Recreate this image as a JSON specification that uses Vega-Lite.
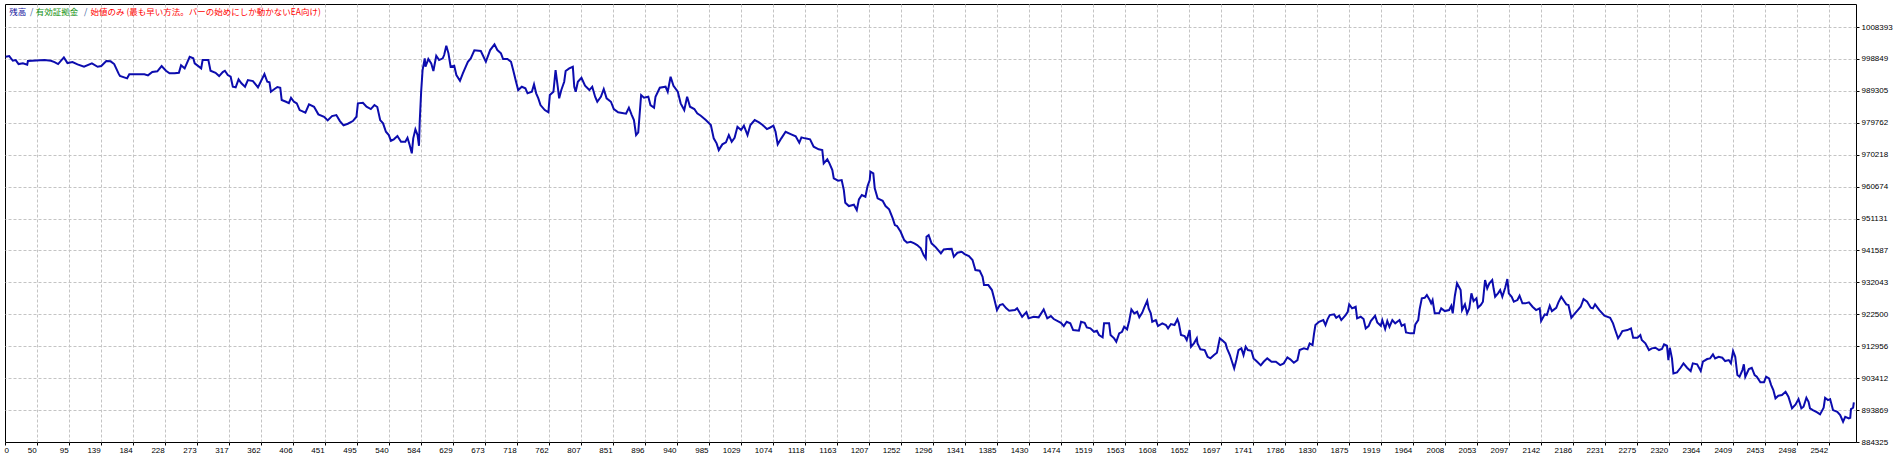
{
  "$schema": "https://vega.github.io/schema/vega-lite/v6.json",
  "width": 1851,
  "height": 438,
  "padding": {"left": 4, "top": 4, "right": 0, "bottom": 0},
  "autosize": {"type": "pad"},
  "background": "#ffffff",
  "config": {
    "font": "Liberation Sans",
    "view": {"stroke": "#000000", "strokeWidth": 1},
    "axis": {
      "domain": false,
      "grid": true,
      "gridColor": "#c4c4c4",
      "gridDash": [3, 2],
      "gridWidth": 1,
      "tickColor": "#000000",
      "tickSize": 3,
      "labelFont": "Liberation Sans",
      "labelFontSize": 8,
      "labelColor": "#000000",
      "labelOverlap": false,
      "title": null
    }
  },
  "data": {"values": [
    {"bar":6,"balance":999513},{"bar":11,"balance":999722},{"bar":16,"balance":998317},{"bar":20,"balance":998526},{"bar":24,"balance":997330},{"bar":30,"balance":997539},{"bar":36,"balance":997121},{"bar":37,"balance":998227},{"bar":60,"balance":998526},{"bar":69,"balance":998317},{"bar":74,"balance":997928},{"bar":79,"balance":997330},{"bar":87,"balance":999333},{"bar":92,"balance":997629},{"bar":99,"balance":997928},{"bar":106,"balance":997240},{"bar":115,"balance":996523},{"bar":126,"balance":997539},{"bar":134,"balance":996523},{"bar":139,"balance":996732},{"bar":146,"balance":998227},{"bar":152,"balance":998137},{"bar":157,"balance":997330},{"bar":163,"balance":994549},{"bar":165,"balance":993742},{"bar":175,"balance":993054},{"bar":178,"balance":994250},{"bar":199,"balance":994250},{"bar":204,"balance":993951},{"bar":210,"balance":994938},{"bar":217,"balance":995147},{"bar":223,"balance":996732},{"bar":229,"balance":995327},{"bar":234,"balance":994549},{"bar":241,"balance":994549},{"bar":247,"balance":994729},{"bar":250,"balance":996941},{"bar":255,"balance":996044},{"bar":262,"balance":999513},{"bar":267,"balance":999034},{"bar":269,"balance":997539},{"bar":278,"balance":996044},{"bar":280,"balance":998526},{"bar":288,"balance":998526},{"bar":291,"balance":995327},{"bar":298,"balance":994729},{"bar":303,"balance":993742},{"bar":308,"balance":994938},{"bar":311,"balance":995327},{"bar":315,"balance":994041},{"bar":319,"balance":993533},{"bar":322,"balance":990543},{"bar":326,"balance":990363},{"bar":330,"balance":992755},{"bar":334,"balance":991559},{"bar":339,"balance":990543},{"bar":343,"balance":992546},{"bar":350,"balance":992247},{"bar":357,"balance":990363},{"bar":366,"balance":994340},{"bar":370,"balance":992038},
    {"bar":373,"balance":991858},{"bar":375,"balance":989048},{"bar":380,"balance":989855},{"bar":384,"balance":990453},{"bar":388,"balance":990244},{"bar":390,"balance":986566},{"bar":396,"balance":986058},{"bar":400,"balance":985669},{"bar":403,"balance":987254},{"bar":407,"balance":986058},{"bar":411,"balance":985579},{"bar":415,"balance":983576},{"bar":423,"balance":982769},{"bar":428,"balance":985280},{"bar":435,"balance":984563},{"bar":441,"balance":982290},{"bar":449,"balance":981573},{"bar":454,"balance":980496},{"bar":460,"balance":981782},{"bar":466,"balance":982081},{"bar":471,"balance":980287},{"bar":476,"balance":979001},{"bar":482,"balance":979480},{"bar":489,"balance":980287},{"bar":494,"balance":981573},{"bar":496,"balance":985579},{"bar":503,"balance":985759},{"bar":508,"balance":984563},{"bar":514,"balance":983875},{"bar":519,"balance":985071},{"bar":523,"balance":984473},{"bar":527,"balance":980586},{"bar":531,"balance":979599},{"bar":535,"balance":977088},{"bar":539,"balance":976101},{"bar":542,"balance":974397},{"bar":546,"balance":974815},{"bar":551,"balance":975802},{"bar":556,"balance":974098},{"bar":562,"balance":974098},{"bar":565,"balance":975294},{"bar":568,"balance":973111},{"bar":571,"balance":970629},{"bar":573,"balance":975114},{"bar":576,"balance":977805},{"bar":579,"balance":976101},{"bar":581,"balance":972902},{"bar":582,"balance":980078},{"bar":584,"balance":989048},{"bar":586,"balance":995536},{"bar":589,"balance":999034},{"bar":590,"balance":996523},{"bar":594,"balance":998825},{"bar":598,"balance":997539},{"bar":601,"balance":995237},{"bar":605,"balance":999812},{"bar":609,"balance":998526},{"bar":614,"balance":999034},{"bar":616,"balance":1000021},{"bar":619,"balance":1002802},{"bar":622,"balance":1000529},{"bar":625,"balance":996523},{"bar":630,"balance":996822},{"bar":633,"balance":994041},{"bar":638,"balance":992337},{"bar":642,"balance":994549},{"bar":645,"balance":996044},{"bar":649,"balance":998018},{"bar":653,"balance":999034},{"bar":658,"balance":1001426},{"bar":667,"balance":1001217},{"bar":674,"balance":998018},{"bar":680,"balance":1001516},{"bar":686,"balance":1003220},{"bar":690,"balance":1001516},{"bar":695,"balance":1000529},{"bar":698,"balance":998825},{"bar":704,"balance":998825},{"bar":709,"balance":998018},{"bar":712,"balance":995536},{"bar":716,"balance":992038},{"bar":719,"balance":989556},{"bar":724,"balance":990543},{"bar":729,"balance":990064},{"bar":732,"balance":988569},{"bar":738,"balance":989048},{"bar":741,"balance":991260},{"bar":744,"balance":988569},
    {"bar":747,"balance":987074},{"bar":750,"balance":985071},{"bar":756,"balance":983576},{"bar":761,"balance":982888},{"bar":763,"balance":988061},{"bar":768,"balance":989048},{"bar":771,"balance":995536},{"bar":774,"balance":990543},{"bar":776,"balance":987074},{"bar":779,"balance":989556},{"bar":783,"balance":992038},{"bar":785,"balance":995237},{"bar":790,"balance":996044},{"bar":795,"balance":996523},{"bar":797,"balance":990543},{"bar":799,"balance":989048},{"bar":802,"balance":992038},{"bar":807,"balance":993234},{"bar":812,"balance":990842},{"bar":818,"balance":989556},{"bar":822,"balance":990543},{"bar":826,"balance":987553},{"bar":829,"balance":986058},{"bar":834,"balance":987553},{"bar":838,"balance":989855},{"bar":842,"balance":987074},{"bar":848,"balance":986058},{"bar":852,"balance":983875},{"bar":858,"balance":982888},{"bar":869,"balance":982470},{"bar":873,"balance":984264},{"bar":877,"balance":982081},{"bar":880,"balance":980586},{"bar":883,"balance":976101},{"bar":886,"balance":976908},{"bar":890,"balance":988061},{"bar":894,"balance":987254},{"bar":900,"balance":987553},{"bar":903,"balance":985071},{"bar":908,"balance":984264},{"bar":910,"balance":987553},{"bar":916,"balance":990244},{"bar":924,"balance":990543},{"bar":927,"balance":989048},{"bar":931,"balance":993533},{"bar":935,"balance":990842},{"bar":941,"balance":989048},{"bar":945,"balance":985579},{"bar":950,"balance":983576},{"bar":954,"balance":987553},{"bar":958,"balance":984563},{"bar":964,"balance":983875},{"bar":968,"balance":982589},{"bar":973,"balance":981872},{"bar":980,"balance":980586},{"bar":987,"balance":979091},{"bar":991,"balance":975114},{"bar":995,"balance":973619},{"bar":998,"balance":971616},{"bar":1003,"balance":973320},{"bar":1008,"balance":973918},{"bar":1012,"balance":976101},{"bar":1016,"balance":974098},{"bar":1020,"balance":975294},{"bar":1024,"balance":978583},{"bar":1029,"balance":977596},{"bar":1033,"balance":978882},{"bar":1038,"balance":976101},{"bar":1042,"balance":979091},{"bar":1048,"balance":980586},{"bar":1054,"balance":979898},{"bar":1059,"balance":979091},{"bar":1065,"balance":977895},{"bar":1069,"balance":978284},{"bar":1074,"balance":978882},{"bar":1077,"balance":977088},{"bar":1080,"balance":973320},{"bar":1085,"balance":975114},{"bar":1091,"balance":977088},{"bar":1098,"balance":976400},{"bar":1105,"balance":975712},{"bar":1110,"balance":973799},
    {"bar":1113,"balance":975413},{"bar":1118,"balance":975114},{"bar":1125,"balance":974815},{"bar":1130,"balance":972603},{"bar":1137,"balance":971825},{"bar":1142,"balance":971616},{"bar":1144,"balance":967639},{"bar":1149,"balance":968835},{"bar":1152,"balance":967639},{"bar":1156,"balance":965636},{"bar":1158,"balance":963154},{"bar":1164,"balance":962437},{"bar":1169,"balance":962646},{"bar":1172,"balance":959656},{"bar":1174,"balance":955859},{"bar":1179,"balance":954872},{"bar":1186,"balance":955261},{"bar":1190,"balance":953676},{"bar":1193,"balance":956875},{"bar":1197,"balance":958161},{"bar":1202,"balance":957653},{"bar":1205,"balance":960852},{"bar":1208,"balance":962646},{"bar":1209,"balance":965128},{"bar":1213,"balance":964649},{"bar":1215,"balance":960164},{"bar":1219,"balance":957174},{"bar":1226,"balance":956457},{"bar":1230,"balance":954872},{"bar":1235,"balance":953885},{"bar":1240,"balance":951194},{"bar":1243,"balance":949191},{"bar":1246,"balance":948892},{"bar":1251,"balance":947188},{"bar":1256,"balance":944706},{"bar":1260,"balance":943899},{"bar":1265,"balance":944198},{"bar":1270,"balance":943719},{"bar":1274,"balance":943211},{"bar":1279,"balance":942224},{"bar":1283,"balance":940221},{"bar":1286,"balance":939234},{"bar":1287,"balance":945693},{"bar":1290,"balance":946201},{"bar":1294,"balance":943719},{"bar":1300,"balance":942523},{"bar":1307,"balance":940729},{"bar":1311,"balance":941925},{"bar":1316,"balance":942015},{"bar":1322,"balance":942105},{"bar":1325,"balance":939713},{"bar":1330,"balance":940909},{"bar":1336,"balance":941208},{"bar":1340,"balance":940520},{"bar":1346,"balance":939922},{"bar":1351,"balance":938726},{"bar":1355,"balance":935736},{"bar":1361,"balance":935527},{"bar":1365,"balance":933733},{"bar":1367,"balance":931251},{"bar":1373,"balance":931251},{"bar":1378,"balance":929756},{"bar":1381,"balance":927274},{"bar":1385,"balance":923776},{"bar":1389,"balance":925271},{"bar":1393,"balance":925570},{"bar":1398,"balance":924284},{"bar":1402,"balance":923567},{"bar":1410,"balance":923776},{"bar":1413,"balance":924284},{"bar":1420,"balance":921773},{"bar":1426,"balance":923178},{"bar":1429,"balance":921294},{"bar":1436,"balance":921773},{"bar":1443,"balance":921593},{"bar":1450,"balance":923985},{"bar":1455,"balance":921294},{"bar":1460,"balance":921982},{"bar":1464,"balance":921085},
    {"bar":1474,"balance":919979},{"bar":1478,"balance":918992},{"bar":1482,"balance":920278},{"bar":1487,"balance":919799},{"bar":1491,"balance":917796},{"bar":1499,"balance":917587},{"bar":1502,"balance":920278},{"bar":1507,"balance":919979},{"bar":1510,"balance":918603},{"bar":1515,"balance":918304},{"bar":1520,"balance":917288},{"bar":1524,"balance":917587},{"bar":1527,"balance":916301},{"bar":1532,"balance":915613},{"bar":1534,"balance":919799},{"bar":1541,"balance":919799},{"bar":1543,"balance":916301},{"bar":1548,"balance":915314},{"bar":1551,"balance":914298},{"bar":1555,"balance":916809},{"bar":1559,"balance":917288},{"bar":1562,"balance":918783},{"bar":1566,"balance":918005},{"bar":1569,"balance":920577},{"bar":1572,"balance":923985},{"bar":1576,"balance":922789},{"bar":1580,"balance":923268},{"bar":1583,"balance":921593},{"bar":1587,"balance":922969},{"bar":1590,"balance":924583},{"bar":1594,"balance":926557},{"bar":1596,"balance":924284},{"bar":1599,"balance":922789},{"bar":1601,"balance":920278},{"bar":1606,"balance":920786},{"bar":1609,"balance":918992},{"bar":1615,"balance":919799},{"bar":1620,"balance":919291},{"bar":1623,"balance":918304},{"bar":1627,"balance":919590},{"bar":1632,"balance":919291},{"bar":1636,"balance":920995},{"bar":1638,"balance":919799},{"bar":1641,"balance":916301},{"bar":1646,"balance":916002},{"bar":1649,"balance":914806},{"bar":1653,"balance":917796},{"bar":1655,"balance":912803},{"bar":1659,"balance":913819},{"bar":1663,"balance":915314},{"bar":1664,"balance":913819},{"bar":1668,"balance":912025},{"bar":1674,"balance":911816},{"bar":1678,"balance":909813},{"bar":1682,"balance":909334},{"bar":1687,"balance":910321},{"bar":1691,"balance":911009},{"bar":1695,"balance":915314},{"bar":1698,"balance":914806},{"bar":1703,"balance":913819},{"bar":1705,"balance":912324},{"bar":1709,"balance":910321},{"bar":1712,"balance":908318},{"bar":1715,"balance":906344},{"bar":1718,"balance":908826},{"bar":1721,"balance":911816},{"bar":1725,"balance":912324},{"bar":1728,"balance":910321},{"bar":1731,"balance":912803},{"bar":1734,"balance":911816},{"bar":1739,"balance":911607},{"bar":1742,"balance":909334},{"bar":1747,"balance":908318},{"bar":1752,"balance":907241},{"bar":1756,"balance":908318},{"bar":1761,"balance":909334},{"bar":1767,"balance":908318},{"bar":1773,"balance":908318},{"bar":1779,"balance":907331},{"bar":1784,"balance":907839},{"bar":1789,"balance":909633},{"bar":1793,"balance":909035},{"bar":1798,"balance":908019},{"bar":1803,"balance":908826},{"bar":1806,"balance":911816},{"bar":1812,"balance":912324},{"bar":1817,"balance":912025},{"bar":1820,"balance":913819},{"bar":1824,"balance":913311},{"bar":1826,"balance":916600},{"bar":1828,"balance":919291},{"bar":1833,"balance":920278},{"bar":1839,"balance":920786},{"bar":1842,"balance":919291},{"bar":1845,"balance":921085},{"bar":1848,"balance":922281},
    {"bar":1854,"balance":922490},{"bar":1857,"balance":921474},{"bar":1861,"balance":922072},{"bar":1864,"balance":920786},{"bar":1870,"balance":922281},{"bar":1873,"balance":923268},{"bar":1875,"balance":925480},{"bar":1879,"balance":924284},{"bar":1884,"balance":924763},{"bar":1886,"balance":921294},{"bar":1891,"balance":921773},{"bar":1895,"balance":921085},{"bar":1898,"balance":918304},{"bar":1902,"balance":918992},{"bar":1905,"balance":920487},{"bar":1911,"balance":922072},{"bar":1914,"balance":920098},{"bar":1919,"balance":919082},{"bar":1921,"balance":920786},{"bar":1925,"balance":918095},{"bar":1928,"balance":920487},{"bar":1931,"balance":918783},{"bar":1935,"balance":920786},{"bar":1939,"balance":919799},{"bar":1945,"balance":920786},{"bar":1948,"balance":919082},{"bar":1952,"balance":919500},{"bar":1954,"balance":917108},{"bar":1960,"balance":916809},{"bar":1965,"balance":916809},{"bar":1967,"balance":919500},{"bar":1971,"balance":920786},{"bar":1973,"balance":924075},{"bar":1976,"balance":927274},{"bar":1980,"balance":927454},{"bar":1983,"balance":928261},{"bar":1987,"balance":926766},{"bar":1989,"balance":925779},{"bar":1991,"balance":926766},{"bar":1994,"balance":922789},{"bar":2000,"balance":922789},{"bar":2003,"balance":924284},{"bar":2008,"balance":923477},{"bar":2014,"balance":923776},{"bar":2017,"balance":925062},{"bar":2019,"balance":922789},{"bar":2022,"balance":928052},{"bar":2025,"balance":931759},{"bar":2030,"balance":929756},{"bar":2032,"balance":923776},{"bar":2036,"balance":925480},{"bar":2039,"balance":922789},{"bar":2042,"balance":924284},{"bar":2045,"balance":928769},{"bar":2048,"balance":926467},{"bar":2052,"balance":927274},{"bar":2054,"balance":924464},{"bar":2058,"balance":925271},{"bar":2061,"balance":926258},{"bar":2064,"balance":932746},{"bar":2067,"balance":930264},{"bar":2070,"balance":931759},{"bar":2074,"balance":932746},{"bar":2076,"balance":930055},{"bar":2078,"balance":927753},{"bar":2082,"balance":928769},{"bar":2085,"balance":929756},{"bar":2088,"balance":927753},{"bar":2092,"balance":930444},{"bar":2095,"balance":933045},{"bar":2097,"balance":928769},{"bar":2101,"balance":927753},{"bar":2104,"balance":926258},{"bar":2109,"balance":926766},{"bar":2112,"balance":928052},{"bar":2116,"balance":925779},{"bar":2120,"balance":925779},{"bar":2125,"balance":926078},{"bar":2130,"balance":924763},{"bar":2135,"balance":923776},{"bar":2140,"balance":924284},{"bar":2142,"balance":920487},{"bar":2147,"balance":922490},{"bar":2150,"balance":922281},{"bar":2154,"balance":925062},{"bar":2157,"balance":923477},{"bar":2163,"balance":924464},{"bar":2166,"balance":926078},{"bar":2170,"balance":927753},{"bar":2173,"balance":926766},{"bar":2177,"balance":925480},{"bar":2180,"balance":925271},{"bar":2184,"balance":921474},{"bar":2189,"balance":922789},{"bar":2193,"balance":923776},{"bar":2197,"balance":924763},{"bar":2201,"balance":927065},{"bar":2206,"balance":926258},{"bar":2211,"balance":924464},{"bar":2214,"balance":924284},{"bar":2217,"balance":925480},{"bar":2223,"balance":923776},
    {"bar":2230,"balance":922072},{"bar":2238,"balance":921474},{"bar":2242,"balance":919799},{"bar":2245,"balance":917796},{"bar":2249,"balance":915314},{"bar":2252,"balance":916301},{"bar":2255,"balance":917497},{"bar":2262,"balance":917796},{"bar":2267,"balance":918304},{"bar":2270,"balance":915494},{"bar":2276,"balance":915494},{"bar":2280,"balance":916301},{"bar":2282,"balance":914806},{"bar":2287,"balance":913819},{"bar":2292,"balance":911816},{"bar":2296,"balance":912324},{"bar":2301,"balance":912504},{"bar":2306,"balance":911816},{"bar":2310,"balance":912115},{"bar":2313,"balance":913520},{"bar":2317,"balance":913102},{"bar":2319,"balance":908826},{"bar":2321,"balance":912504},{"bar":2324,"balance":909334},{"bar":2326,"balance":904849},{"bar":2331,"balance":905148},{"bar":2336,"balance":906524},{"bar":2340,"balance":907839},{"bar":2345,"balance":906524},{"bar":2350,"balance":905537},{"bar":2353,"balance":907839},{"bar":2359,"balance":907540},{"bar":2364,"balance":905537},{"bar":2367,"balance":908318},{"bar":2373,"balance":909125},{"bar":2377,"balance":909334},{"bar":2381,"balance":910530},{"bar":2384,"balance":909334},{"bar":2389,"balance":909813},{"bar":2394,"balance":909514},{"bar":2398,"balance":908527},{"bar":2403,"balance":908826},{"bar":2406,"balance":907839},{"bar":2409,"balance":911517},{"bar":2412,"balance":909813},{"bar":2415,"balance":904341},{"bar":2418,"balance":903833},{"bar":2422,"balance":905836},{"bar":2424,"balance":907540},{"bar":2426,"balance":903833},{"bar":2431,"balance":906135},{"bar":2435,"balance":906524},{"bar":2439,"balance":904341},{"bar":2442,"balance":903833},{"bar":2447,"balance":902158},{"bar":2452,"balance":902158},{"bar":2455,"balance":903833},{"bar":2459,"balance":903354},{"bar":2462,"balance":901351},{"bar":2465,"balance":899856},{"bar":2468,"balance":897374},{"bar":2472,"balance":898152},{"bar":2477,"balance":898361},{"bar":2482,"balance":899348},{"bar":2486,"balance":897853},{"bar":2491,"balance":894384},{"bar":2496,"balance":895580},{"bar":2500,"balance":897165},{"bar":2504,"balance":894384},{"bar":2507,"balance":894863},{"bar":2511,"balance":897554},{"bar":2514,"balance":896358},{"bar":2516,"balance":894384},{"bar":2520,"balance":893876},{"bar":2526,"balance":893188},{"bar":2530,"balance":892590},{"bar":2535,"balance":894564},{"bar":2537,"balance":897554},{"bar":2541,"balance":896866},{"bar":2544,"balance":897165},{"bar":2548,"balance":893876},{"bar":2554,"balance":893368},{"bar":2558,"balance":892381},{"bar":2562,"balance":890378},{"bar":2565,"balance":891873},{"bar":2570,"balance":891394},{"bar":2572,"balance":891574},{"bar":2573,"balance":894175},{"bar":2576,"balance":894564},{"bar":2577,"balance":896178}
  ]},
  "layer": [
    {
      "mark": {"type": "line", "color": "#0c0cae", "strokeWidth": 2, "clip": true},
      "encoding": {
        "x": {
          "field": "bar", "type": "quantitative",
          "scale": {"domain": [5.1, 2580], "nice": false, "zero": false},
          "axis": {
            "orient": "bottom",
            "tickCount": 500,
            "values": [5.1, 50, 94.5, 139, 183.5, 228, 272.5, 317, 361.5, 406, 450.5, 495, 539.5, 584, 628.5, 673, 717.5, 762, 806.5, 851, 895.5, 940, 984.5, 1029, 1073.5, 1118, 1162.5, 1207, 1251.5, 1296, 1340.5, 1385, 1429.5, 1474, 1518.5, 1563, 1607.5, 1652, 1696.5, 1741, 1785.5, 1830, 1874.5, 1919, 1963.5, 2008, 2052.5, 2097, 2141.5, 2186, 2230.5, 2275, 2319.5, 2364, 2408.5, 2453, 2497.5, 2542],
            "labelExpr": "datum.value < 10 ? '0' : format(datum.value, '.0f')",
            "labelAlign": {"condition": {"test": "datum.value < 10", "value": "left"}, "value": "right"},
            "gridOpacity": {"condition": {"test": "datum.value < 10", "value": 0}, "value": 1},
            "labelOffset": -1,
            "labelPadding": 1,
            "labelBaseline": "top",
            "labelOverlap": false,
            "labelFlush": false,
            "labelBound": false
          }
        },
        "y": {
          "field": "balance", "type": "quantitative",
          "scale": {"domain": [884325, 1015283], "nice": false, "zero": false},
          "axis": {
            "orient": "right",
            "tickCount": 500,
            "values": [884325, 893869, 903412, 912956, 922500, 932043, 941587, 951131, 960674, 970218, 979762, 989305, 998849, 1008393],
            "format": "d",
            "gridOpacity": {"condition": {"test": "datum.value < 885000", "value": 0}, "value": 1},
            "labelPadding": 2,
            "labelOverlap": false,
            "labelFlush": false,
            "labelBound": false,
            "labelBaseline": "middle"
          }
        }
      }
    },
    {
      "data": {"values": [{"label": "残高"}]},
      "mark": {"type": "text", "color": "#10109c", "font": "Noto Sans CJK JP", "fontSize": 8.5, "align": "left", "baseline": "middle"},
      "encoding": {"x": {"datum": 11, "type": "quantitative"}, "y": {"datum": 1012891, "type": "quantitative"}, "text": {"field": "label"}}
    },
    {
      "data": {"values": [{"label": "/"}]},
      "mark": {"type": "text", "color": "#3a5a9a", "font": "Noto Sans CJK JP", "fontSize": 8.5, "align": "left", "baseline": "middle"},
      "encoding": {"x": {"datum": 40, "type": "quantitative"}, "y": {"datum": 1012891, "type": "quantitative"}, "text": {"field": "label"}}
    },
    {
      "data": {"values": [{"label": "有効証拠金"}]},
      "mark": {"type": "text", "color": "#109010", "font": "Noto Sans CJK JP", "fontSize": 8.5, "align": "left", "baseline": "middle"},
      "encoding": {"x": {"datum": 48, "type": "quantitative"}, "y": {"datum": 1012891, "type": "quantitative"}, "text": {"field": "label"}}
    },
    {
      "data": {"values": [{"label": "/"}]},
      "mark": {"type": "text", "color": "#3a5a9a", "font": "Noto Sans CJK JP", "fontSize": 8.5, "align": "left", "baseline": "middle"},
      "encoding": {"x": {"datum": 115, "type": "quantitative"}, "y": {"datum": 1012891, "type": "quantitative"}, "text": {"field": "label"}}
    },
    {
      "data": {"values": [{"label": "始値のみ (最も早い方法。バーの始めにしか動かないEA向け)"}]},
      "mark": {"type": "text", "color": "#ff0000", "font": "Noto Sans CJK JP", "fontSize": 8.5, "align": "left", "baseline": "middle"},
      "encoding": {"x": {"datum": 124, "type": "quantitative"}, "y": {"datum": 1012891, "type": "quantitative"}, "text": {"field": "label"}}
    }
  ]
}
